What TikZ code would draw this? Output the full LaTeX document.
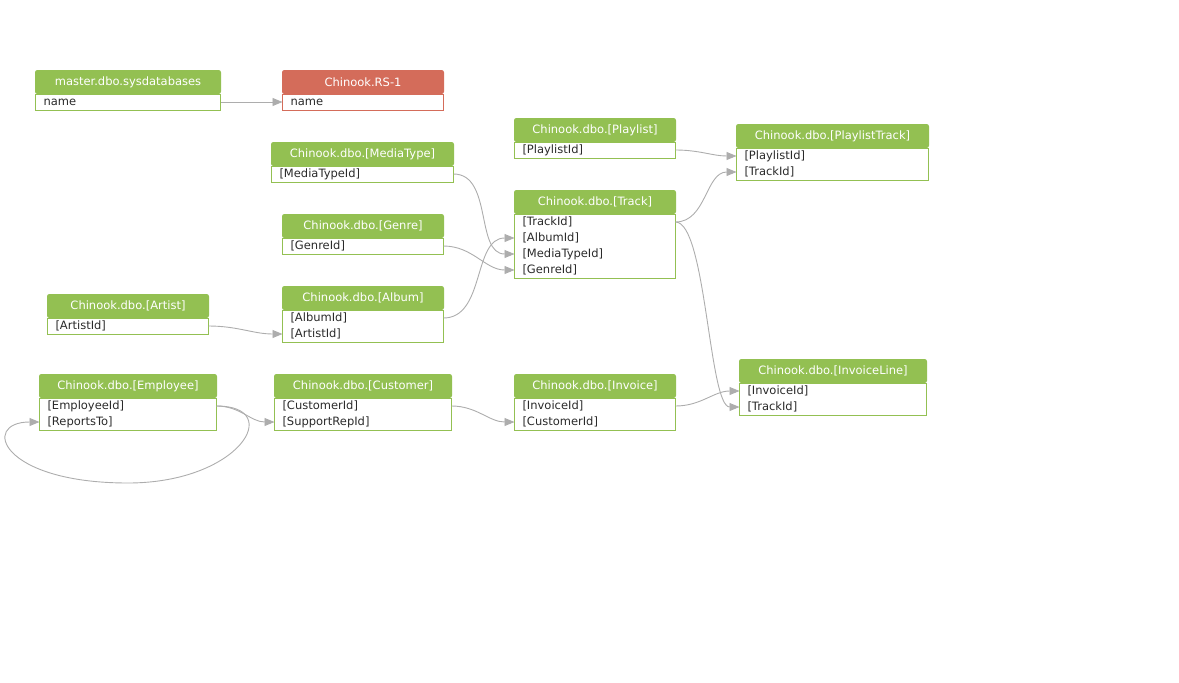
\documentclass[tikz,border=0pt]{standalone}
\usepackage{fontspec}
\newfontfamily\dbfont{DejaVu Sans}
\usetikzlibrary{arrows.meta, positioning, fit}
\definecolor{dbgreen}{HTML}{93C052}
\definecolor{dbred}{HTML}{D46C5A}
\definecolor{dbgrey}{HTML}{ADADAD}
\definecolor{dbink}{HTML}{2A2A2A}
\tikzset{
  tabhead/.style={
    fill=dbgreen, draw=dbgreen, line width=1pt, text=white, rounded corners=2pt,
    minimum width=#1pt, minimum height=23pt, inner sep=0pt, anchor=north west,
    font=\dbfont\fontsize{11.5}{13}\selectfont},
  tabrow/.style={
    minimum height=16pt, text width=#1pt-16pt, inner xsep=8pt, inner ysep=0pt,
    outer sep=0pt, align=left, text=dbink,
    font=\dbfont\fontsize{11.5}{13}\selectfont},
  tabbody/.style={draw=dbgreen, line width=1pt, inner sep=0pt, fit=#1},
  fk/.style={-{Triangle[length=10pt, width=8pt]}, draw=dbgrey, line width=.9pt},
}
\begin{document}
\begin{tikzpicture}[x=1pt, y=-1pt]
  \useasboundingbox (0,0) rectangle (1179,683);
  % server tables
  \node[tabhead=185] (sysdb) at (35,70) {master.dbo.sysdatabases};
  \node[tabrow=185, below=0pt of sysdb] (sysdb-name) {name};
  \node[tabhead=161, fill=dbred, draw=dbred] (rs) at (282,70) {Chinook.RS-1};
  \node[tabrow=161, below=0pt of rs] (rs-name) {name};
  % lookup tables
  \node[tabhead=182] (mtype) at (271,142) {Chinook.dbo.[MediaType]};
  \node[tabrow=182, below=0pt of mtype] (mtype-id) {[MediaTypeId]};
  \node[tabhead=161] (genre) at (282,214) {Chinook.dbo.[Genre]};
  \node[tabrow=161, below=0pt of genre] (genre-id) {[GenreId]};
  \node[tabhead=161] (artist) at (47,294) {Chinook.dbo.[Artist]};
  \node[tabrow=161, below=0pt of artist] (artist-id) {[ArtistId]};
  \node[tabhead=161] (album) at (282,286) {Chinook.dbo.[Album]};
  \node[tabrow=161, below=0pt of album] (album-id) {[AlbumId]};
  \node[tabrow=161, below=0pt of album-id] (album-artist) {[ArtistId]};
  % people and sales
  \node[tabhead=177] (emp) at (39,374) {Chinook.dbo.[Employee]};
  \node[tabrow=177, below=0pt of emp] (emp-id) {[EmployeeId]};
  \node[tabrow=177, below=0pt of emp-id] (emp-boss) {[ReportsTo]};
  \node[tabhead=177] (cust) at (274,374) {Chinook.dbo.[Customer]};
  \node[tabrow=177, below=0pt of cust] (cust-id) {[CustomerId]};
  \node[tabrow=177, below=0pt of cust-id] (cust-rep) {[SupportRepId]};
  \node[tabhead=161] (inv) at (514,374) {Chinook.dbo.[Invoice]};
  \node[tabrow=161, below=0pt of inv] (inv-id) {[InvoiceId]};
  \node[tabrow=161, below=0pt of inv-id] (inv-cust) {[CustomerId]};
  % tracks
  \node[tabhead=161] (plist) at (514,118) {Chinook.dbo.[Playlist]};
  \node[tabrow=161, below=0pt of plist] (plist-id) {[PlaylistId]};
  \node[tabhead=161] (track) at (514,190) {Chinook.dbo.[Track]};
  \node[tabrow=161, below=0pt of track] (track-id) {[TrackId]};
  \node[tabrow=161, below=0pt of track-id] (track-album) {[AlbumId]};
  \node[tabrow=161, below=0pt of track-album] (track-mtype) {[MediaTypeId]};
  \node[tabrow=161, below=0pt of track-mtype] (track-genre) {[GenreId]};
  \node[tabhead=192] (ptrack) at (736,124) {Chinook.dbo.[PlaylistTrack]};
  \node[tabrow=192, below=0pt of ptrack] (ptrack-plist) {[PlaylistId]};
  \node[tabrow=192, below=0pt of ptrack-plist] (ptrack-track) {[TrackId]};
  \node[tabhead=187] (iline) at (739,359) {Chinook.dbo.[InvoiceLine]};
  \node[tabrow=187, below=0pt of iline] (iline-inv) {[InvoiceId]};
  \node[tabrow=187, below=0pt of iline-inv] (iline-track) {[TrackId]};

  % table bodies
  \node[tabbody=(sysdb-name)] {};
  \node[tabbody=(rs-name), draw=dbred] {};
  \node[tabbody=(mtype-id)] {};
  \node[tabbody=(genre-id)] {};
  \node[tabbody=(artist-id)] {};
  \node[tabbody=(album-id)(album-artist)] {};
  \node[tabbody=(emp-id)(emp-boss)] {};
  \node[tabbody=(cust-id)(cust-rep)] {};
  \node[tabbody=(inv-id)(inv-cust)] {};
  \node[tabbody=(plist-id)] {};
  \node[tabbody=(track-id)(track-genre)] {};
  \node[tabbody=(ptrack-plist)(ptrack-track)] {};
  \node[tabbody=(iline-inv)(iline-track)] {};

  % foreign keys
  \draw[fk] (sysdb-name.east) -- (rs-name.west);
  \draw[fk] (mtype-id.east) to[out=0, in=180] (track-mtype.west);
  \draw[fk] (genre-id.east) to[out=0, in=180] (track-genre.west);
  \draw[fk] (album-id.east) to[out=0, in=180] (track-album.west);
  \draw[fk] (artist-id.east) to[out=0, in=180] (album-artist.west);
  \draw[fk] (plist-id.east) to[out=0, in=180] (ptrack-plist.west);
  \draw[fk] (track-id.east) to[out=0, in=180] (ptrack-track.west);
  \draw[fk] (track-id.east) to[out=0, in=180, looseness=.4] (iline-track.west);
  \draw[fk] (inv-id.east) to[out=0, in=180] (iline-inv.west);
  \draw[fk] (cust-id.east) to[out=0, in=180] (inv-cust.west);
  \draw[fk] (emp-id.east) to[out=0, in=180] (cust-rep.west);
  \coordinate (emp-loop) at (128,483);
  \draw[fk] (emp-id.east) .. controls +(69,0) and +(112,0) .. (emp-loop)
        .. controls +(-128,0) and +(-59,0) .. (emp-boss.west);
\end{tikzpicture}
\end{document}
